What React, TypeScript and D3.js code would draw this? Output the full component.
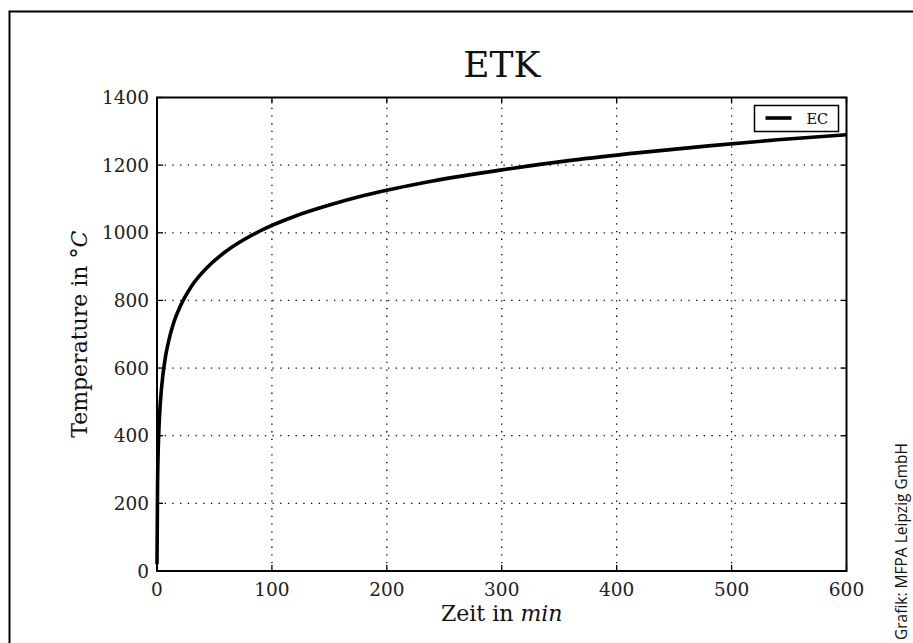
import React, { useRef, useEffect } from 'react';
import * as d3 from 'd3';

// ETK curve, values (time in min, temperature in °C)
const timeMinutes = [0, 0.5, 1, 2, 3, 5, 7.5, 10, 15, 20, 30, 45, 60, 90, 120, 150, 180, 240, 300, 360, 420, 480, 540, 600];
const temperatureC = [20, 261, 349, 445, 502, 576, 636, 678, 739, 781, 842, 902, 945, 1006, 1049, 1082, 1110, 1153, 1186, 1214, 1237, 1257, 1275, 1290];

const xTicks = [0, 100, 200, 300, 400, 500, 600];
const yTicks = [0, 200, 400, 600, 800, 1000, 1200, 1400];

const chartTitle = 'ETK';
const seriesLabel = 'EC';
const creditText = 'Grafik: MFPA Leipzig GmbH';

const App = () => {
  const svgReference = useRef<SVGSVGElement>(null);

  useEffect(() => {
    const width = 913;
    const height = 643;
    const margin = { top: 97.5, right: 913 - 846.5, bottom: 643 - 571, left: 157 };
    const serif = "'DejaVu Serif', serif";

    const svg = d3.select(svgReference.current)
      .attr('width', width)
      .attr('height', height);

    svg.selectAll('*').remove();

    svg.append('rect').attr('width', width).attr('height', height).attr('fill', '#fff');

    // outer frame (top and left edges only)
    svg.append('path')
      .attr('d', `M9.5,${height} L9.5,11.5 L${width},11.5`)
      .attr('fill', 'none')
      .attr('stroke', '#000')
      .attr('stroke-width', 2);

    const xScale = d3.scaleLinear().domain([0, 600]).range([margin.left, width - margin.right]);
    const yScale = d3.scaleLinear().domain([0, 1400]).range([height - margin.bottom, margin.top]);

    const [x0, x1] = xScale.range();
    const [y0, y1] = yScale.range();

    // --- Grid ---
    const grid = svg.append('g')
      .attr('stroke', '#000')
      .attr('stroke-width', 1.3)
      .attr('stroke-dasharray', '1.3,6.4');

    grid.selectAll('.vgrid')
      .data(xTicks.slice(1, -1))
      .enter().append('line')
      .attr('x1', d => xScale(d)).attr('x2', d => xScale(d))
      .attr('y1', y0).attr('y2', y1);

    grid.selectAll('.hgrid')
      .data(yTicks.slice(1, -1))
      .enter().append('line')
      .attr('x1', x0).attr('x2', x1)
      .attr('y1', d => yScale(d)).attr('y2', d => yScale(d));

    // --- Ticks (inward, all four sides) ---
    const tickLength = 6;
    const ticks = svg.append('g').attr('stroke', '#000').attr('stroke-width', 1.3);
    xTicks.forEach(t => {
      ticks.append('line').attr('x1', xScale(t)).attr('x2', xScale(t)).attr('y1', y0).attr('y2', y0 - tickLength);
      ticks.append('line').attr('x1', xScale(t)).attr('x2', xScale(t)).attr('y1', y1).attr('y2', y1 + tickLength);
    });
    yTicks.forEach(t => {
      ticks.append('line').attr('x1', x0).attr('x2', x0 + tickLength).attr('y1', yScale(t)).attr('y2', yScale(t));
      ticks.append('line').attr('x1', x1).attr('x2', x1 - tickLength).attr('y1', yScale(t)).attr('y2', yScale(t));
    });

    // --- Curve ---
    const lineData = timeMinutes.map((t, i) => [t, temperatureC[i]] as [number, number]);
    const line = d3.line<[number, number]>()
      .x(d => xScale(d[0]))
      .y(d => yScale(d[1]))
      .curve(d3.curveMonotoneX);

    svg.append('path')
      .datum(lineData)
      .attr('d', line)
      .attr('fill', 'none')
      .attr('stroke', '#000')
      .attr('stroke-width', 3.6)
      .attr('stroke-linejoin', 'round');

    // --- Spines ---
    svg.append('rect')
      .attr('x', x0).attr('y', y1)
      .attr('width', x1 - x0).attr('height', y0 - y1)
      .attr('fill', 'none')
      .attr('stroke', '#000')
      .attr('stroke-width', 2);

    // --- Tick labels ---
    svg.append('g').selectAll('text')
      .data(xTicks)
      .enter().append('text')
      .attr('x', d => xScale(d))
      .attr('y', y0 + 25)
      .attr('text-anchor', 'middle')
      .style('font-family', serif)
      .style('font-size', '18.5px')
      .attr('fill', '#222')
      .text(d => d);

    svg.append('g').selectAll('text')
      .data(yTicks)
      .enter().append('text')
      .attr('x', x0 - 8)
      .attr('y', d => yScale(d) + 6.5)
      .attr('text-anchor', 'end')
      .style('font-family', serif)
      .style('font-size', '18.5px')
      .attr('fill', '#222')
      .text(d => d);

    // --- Legend ---
    const legend = svg.append('g').attr('transform', `translate(${x1 - 92},${y1 + 8})`);
    legend.append('rect')
      .attr('width', 84).attr('height', 26)
      .attr('fill', '#fff')
      .attr('stroke', '#000')
      .attr('stroke-width', 1.5);
    legend.append('line')
      .attr('x1', 11).attr('x2', 37)
      .attr('y1', 12.5).attr('y2', 12.5)
      .attr('stroke', '#000')
      .attr('stroke-width', 3.6);
    legend.append('text')
      .attr('x', 52).attr('y', 18.5)
      .style('font-family', serif)
      .style('font-size', '14.5px')
      .text(seriesLabel);

    // --- Title and axis labels ---
    svg.append('text')
      .attr('x', (x0 + x1) / 2)
      .attr('y', 77)
      .attr('text-anchor', 'middle')
      .style('font-family', serif)
      .style('font-size', '36px')
      .attr('fill', '#111')
      .text(chartTitle);

    const xLabel = svg.append('text')
      .attr('x', (x0 + x1) / 2)
      .attr('y', 621)
      .attr('text-anchor', 'middle')
      .style('font-family', serif)
      .style('font-size', '22px')
      .attr('fill', '#111');
    xLabel.append('tspan').text('Zeit in ');
    xLabel.append('tspan').style('font-style', 'italic').text('min');

    const yLabel = svg.append('text')
      .attr('transform', `translate(87,${(y0 + y1) / 2}) rotate(-90)`)
      .attr('text-anchor', 'middle')
      .style('font-family', serif)
      .style('font-size', '22px')
      .attr('fill', '#111');
    yLabel.append('tspan').text('Temperature in °');
    yLabel.append('tspan').style('font-style', 'italic').text('C');

    // --- Credit ---
    svg.append('text')
      .attr('transform', `translate(907,640) rotate(-90)`)
      .attr('text-anchor', 'start')
      .style('font-family', "'Open Sans', sans-serif")
      .style('font-size', '15.5px')
      .attr('fill', '#111')
      .text(creditText);
  }, []);

  return (
    <div style={{ position: 'absolute', left: 0, top: 0 }}>
      <svg ref={svgReference}></svg>
    </div>
  );
};

export default App;
